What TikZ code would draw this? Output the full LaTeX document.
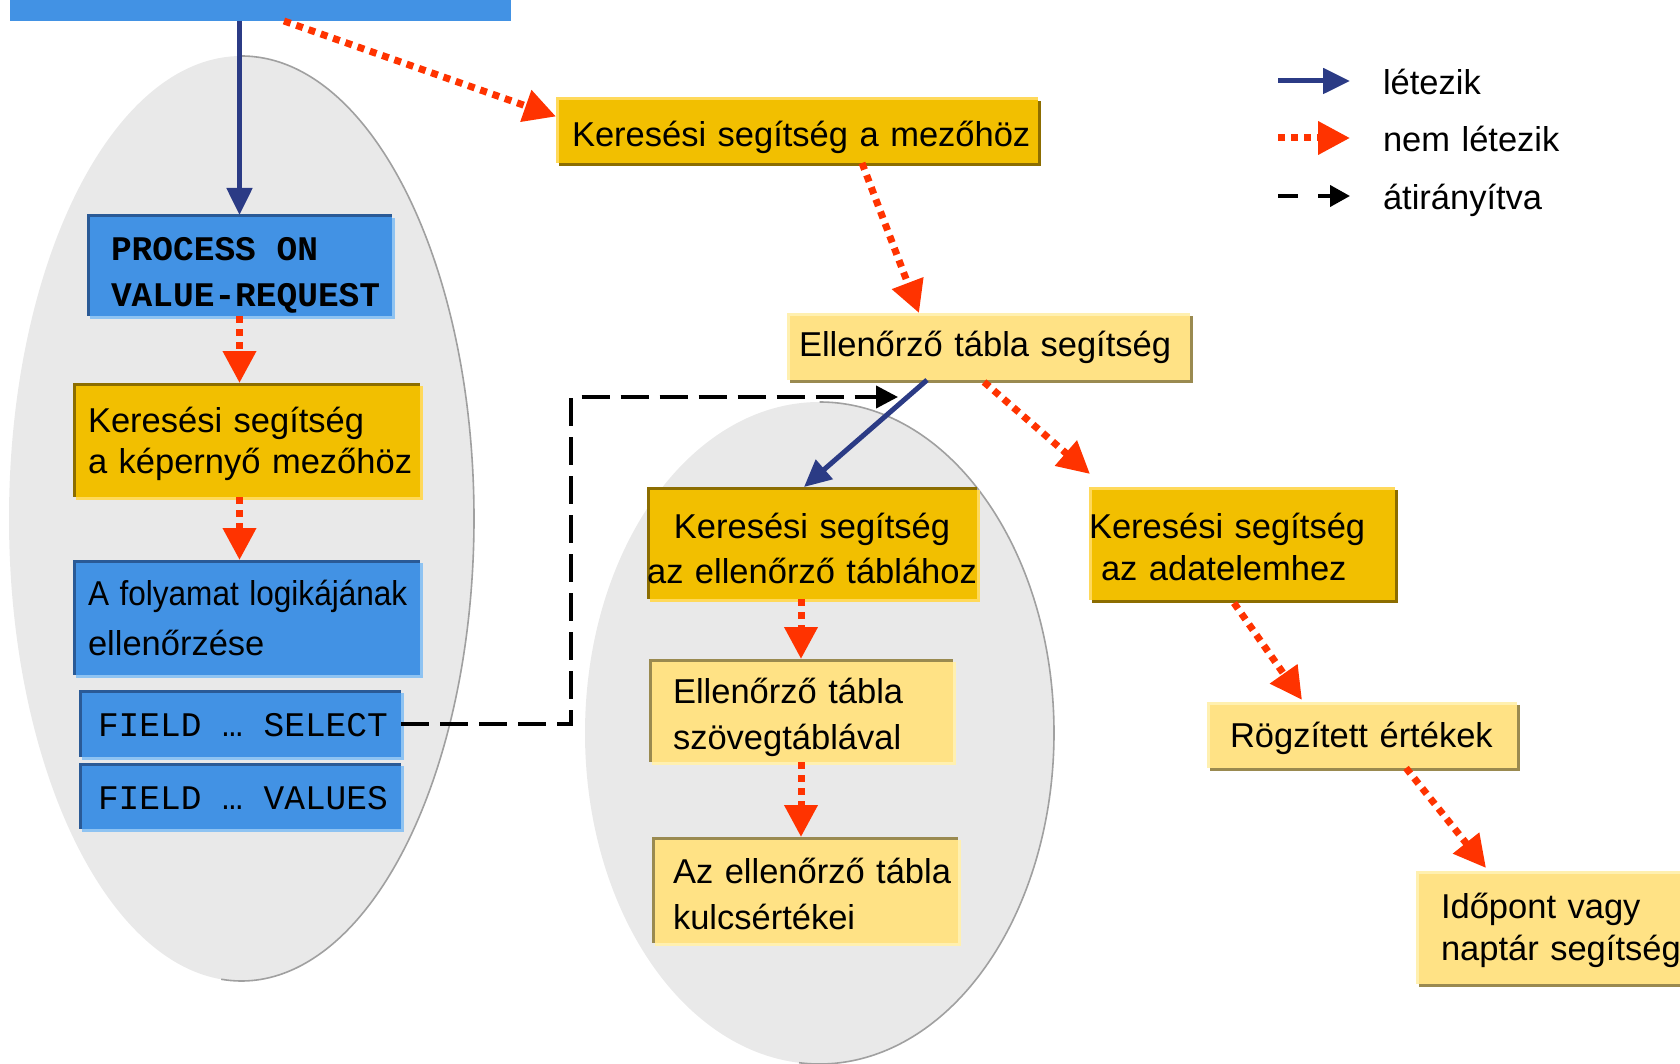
\documentclass[tikz,border=0pt]{standalone}
\usepackage{fontspec}
\setmainfont{Liberation Sans}
\newfontfamily\monof{Liberation Mono}
\usetikzlibrary{arrows.meta,shadows,calc}
\definecolor{boxblue}{HTML}{4292E4}
\definecolor{bluedark}{HTML}{2A5A96}
\definecolor{bluelight}{HTML}{8EC3F2}
\definecolor{gold}{HTML}{F2BF00}
\definecolor{golddark}{HTML}{8C6D00}
\definecolor{goldlight}{HTML}{FFD95A}
\definecolor{pale}{HTML}{FFE285}
\definecolor{paledark}{HTML}{9A8A50}
\definecolor{palelight}{HTML}{FFF0B0}
\definecolor{redc}{HTML}{FF3300}
\definecolor{navy}{HTML}{2B3B85}
\definecolor{ellgray}{HTML}{E9E9E9}
\definecolor{ellline}{HTML}{A0A0A0}
\newcommand\myfs[1]{\fontsize{17.25pt}{#1pt}\selectfont}
\newcommand\msp{\hspace{0.6em}}
\tikzset{
  boxbase/.style={rectangle, inner sep=0pt, outer sep=0pt},
  tlborder/.style={path picture={\draw[line width=2.5pt,#1] (path picture bounding box.south west) -- (path picture bounding box.north west) -- (path picture bounding box.north east);}},
  shad/.style={drop shadow={shadow xshift=1.5pt, shadow yshift=-1.5pt, fill=#1, opacity=1}},
  bluebox/.style={boxbase, fill=boxblue, tlborder=bluedark, shad=bluelight},
  goldin/.style={boxbase, fill=gold, tlborder=golddark, shad=goldlight},
  goldout/.style={boxbase, fill=gold, tlborder=goldlight, shad=golddark},
  palein/.style={boxbase, fill=pale, tlborder=paledark, shad=palelight},
  paleout/.style={boxbase, fill=pale, tlborder=palelight, shad=paledark},
  txt/.style={inner sep=0pt, outer sep=0pt, text width=260pt, align=left},
  exists/.style={draw=navy, line width=2.5pt, -{Triangle[length=13.5pt,width=12.5pt]}},
  notex/.style={draw=redc, line width=3.5pt, dash pattern=on 3.5pt off 3pt, -{Triangle[length=16pt,width=16pt]}},
  redirline/.style={draw=black, line width=2pt, dash pattern=on 14pt off 5.5pt, -{Triangle[length=11pt,width=11pt]}},
}
\begin{document}
\begin{tikzpicture}[x=0.5pt,y=-0.5pt]
\useasboundingbox (0,0) rectangle (1680,1064);
\clip (0,0) rectangle (1680,1064);

% background ellipses
\fill[ellgray] (241.5,518.5) ellipse [x radius=116.25pt, y radius=231.25pt];
\draw[ellline, line width=0.8pt] (241.5,56) arc [start angle=90, end angle=-95, x radius=116.25pt, y radius=231.25pt];
\fill[ellgray] (819.5,733) ellipse [x radius=117.25pt, y radius=165.5pt];
\draw[ellline, line width=0.8pt] (819.5,402) arc [start angle=90, end angle=-95, x radius=117.25pt, y radius=165.5pt];

% boxes
\node[boxbase, fill=boxblue, minimum width=250.5pt, minimum height=20.5pt] (top) at (260.5,0.5) {};
\node[bluebox, minimum width=152.5pt, minimum height=50.5pt] (proc) at (239.5,265.5) {};
\node[goldin, minimum width=173.5pt, minimum height=57pt] (kep) at (246.5,440) {};
\node[bluebox, minimum width=173.5pt, minimum height=57.5pt] (foly) at (246.5,617.5) {};
\node[bluebox, minimum width=161pt, minimum height=33.5pt] (sel) at (240,723.5) {};
\node[bluebox, minimum width=161pt, minimum height=33pt] (val) at (240,796) {};
\node[goldout, minimum width=241pt, minimum height=32.5pt] (mez) at (797,130.5) {};
\node[paleout, minimum width=201.5pt, minimum height=33.5pt] (ell) at (988.5,346.5) {};
\node[goldin, minimum width=165pt, minimum height=56pt] (tabl) at (812,543) {};
\node[palein, minimum width=152pt, minimum height=51.5pt] (szov) at (801,710.5) {};
\node[palein, minimum width=153pt, minimum height=53pt] (kulcs) at (805,890) {};
\node[goldout, minimum width=153pt, minimum height=56.5pt] (adat) at (1242,543.5) {};
\node[paleout, minimum width=155pt, minimum height=33pt] (rog) at (1362,735) {};
\node[paleout, minimum width=137pt, minimum height=56.5pt] (ido) at (1553,927.5) {};

% texts
\node[txt, anchor=base west, font={\monof\bfseries\myfs{23}}] (tproc) at (111,261) {PROCESS\msp ON\\VALUE-REQUEST};
\node[txt, anchor=base west, font={\myfs{20.5}}] (tkep) at (88,432) {Keresési segítség\\a képernyő mezőhöz};
\node[txt, anchor=base west, font={\myfs{25}}] (tfoly) at (88,605) {\scalebox{0.915}[1]{A folyamat logikájának}\\ellenőrzése};
\node[txt, anchor=base west, font={\monof\myfs{20}}] (tsel) at (98,736) {FIELD\msp …\msp SELECT};
\node[txt, anchor=base west, font={\monof\myfs{20}}] (tval) at (98,809) {FIELD\msp …\msp VALUES};
\node[txt, anchor=base west, font={\myfs{20}}] (tmez) at (572,147) {Keresési segítség a mezőhöz};
\node[txt, anchor=base west, font={\myfs{20}}] (tell) at (799,356) {Ellenőrző tábla segítség};
\node[txt, text width=170pt, align=center, anchor=base, font={\myfs{22.5}}] (ttabl) at (812,538) {Keresési segítség\\az ellenőrző táblához};
\node[txt, anchor=base west, font={\myfs{23}}] (tszov) at (673,703) {Ellenőrző tábla\\szövegtáblával};
\node[txt, anchor=base west, font={\myfs{23}}] (tkulcs) at (673,883) {Az ellenőrző tábla\\kulcsértékei};
\node[txt, anchor=base west, font={\myfs{21}}] (tadat) at (1089,538) {Keresési segítség\\\hspace*{6pt}az adatelemhez};
\node[txt, anchor=base west, font={\myfs{20}}] (trog) at (1230,747) {Rögzített értékek};
\node[txt, anchor=base west, font={\myfs{21}}] (tido) at (1441,918) {Időpont vagy\\naptár segítség};

% connectors
\draw[exists] (proc.north |- top.south) -- (proc.north);
\draw[notex] ($(top.south west)+(274,0)$) -- ($(mez.west)+(0,-14)$);
\draw[notex] (proc.south) -- (proc.south |- kep.north);
\draw[notex] (proc.south |- kep.south) -- (proc.south |- foly.north);
\draw[notex] ($(mez.south west)+(306,0)$) -- ($(ell.north west)+(132,0)$);
\draw[exists] ($(ell.south west)+(140,0)$) -- ($(tabl.north west)+(157,0)$);
\draw[notex] ($(ell.south west)+(197,2)$) -- ($(adat.north west)+(1,-13)$);
\draw[notex] (szov.north |- tabl.south) -- (szov.north);
\draw[notex] (szov.south) -- (szov.south |- kulcs.north);
\draw[notex] ($(adat.south west)+(145,3)$) -- ($(rog.north west)+(95,-2)$);
\draw[notex] ($(rog.south west)+(199,0)$) -- ($(ido.north west)+(70,-3)$);
\coordinate (corner) at (571,397);
\coordinate (redir) at (898,397);
\draw[redirline] (sel.east) -| (corner) -- (redir);

% legend
\coordinate (l1a) at (1278,81);  \coordinate (l1b) at (1350,81);
\coordinate (l2a) at (1278,138); \coordinate (l2b) at (1350,138);
\coordinate (l3a) at (1278,196); \coordinate (l3b) at (1350,196);
\draw[exists] (l1a) -- (l1b);
\draw[notex] (l2a) -- (l2b);
\draw[draw=black, line width=2pt, dash pattern=on 10pt off 10pt, -{Triangle[length=10pt,width=10.5pt]}] (l3a) -- (l3b);
\node[txt, anchor=base west, font={\myfs{20}}] (leg1) at (1383,95) {létezik};
\node[txt, anchor=base west, font={\myfs{20}}] (leg2) at (1383,152) {nem létezik};
\node[txt, anchor=base west, font={\myfs{20}}] (leg3) at (1383,210) {átirányítva};
\end{tikzpicture}
\end{document}
